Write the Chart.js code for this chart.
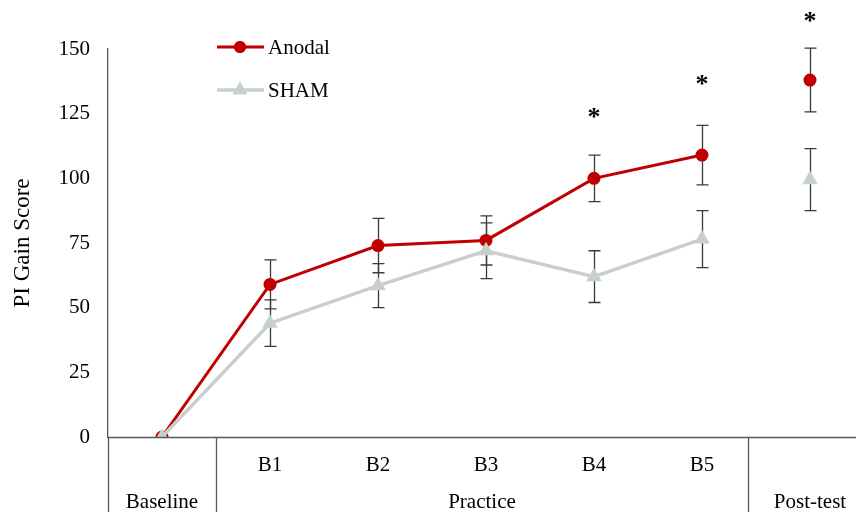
<!DOCTYPE html>
<html><head><meta charset="utf-8">
<script src="https://cdn.jsdelivr.net/npm/chart.js@4"></script>
<style>html,body{margin:0;padding:0;background:#fff}#wrap{width:856px;height:512px}</style>
</head><body><div id="wrap"><canvas id="c" width="856" height="512"></canvas></div>
<script>
const categories = ['Baseline','B1','B2','B3','B4','B5','Post-test'];
const tickLabels = ['', 'B1','B2','B3','B4','B5',''];
const groupLabels = ['Baseline','Practice','Post-test'];
const groupStart = [0,1,6];
const groupEnd = [0,5,6];
const anodal = [0,59,74,76,100,109,138];
const anodalErr = [0,9.5,10.5,9.5,9,11.5,12.3];
const sham = [0,44,58.5,72,62,76.5,99.5];
const shamErr = [0,9,8.5,10.8,10,11,12];
const starValues = [null,null,null,null,125.6,138.4,162.8];
const yTicks = [0,25,50,75,100,125,150];

const RED = '#C00000';
const GRAY = '#C8D0CD';
const AXIS = '#595959';
const FONT = "'Liberation Serif', 'DejaVu Serif', serif";
const X_MIN = -0.5, X_MAX = 6.426;
const SEPARATORS = [-0.5, 0.5, 5.426];

function pts(arr){ return arr.map((v,i)=>({x:i,y:v})); }

const errPlugin = {
  id:'errbars',
  beforeDatasetsDraw(chart){
    const {ctx, scales:{x,y}} = chart;
    ctx.save();
    ctx.strokeStyle = '#3a3a3a';
    ctx.lineWidth = 1.3;
    const sets = [[anodal, anodalErr],[sham, shamErr]];
    sets.forEach(([vals, errs])=>{
      vals.forEach((v,i)=>{
        const e = errs[i];
        if(!e) return;
        const px = Math.round(x.getPixelForValue(i))+0.5;
        const t = y.getPixelForValue(v+e), b = y.getPixelForValue(v-e);
        ctx.beginPath();
        ctx.moveTo(px,t); ctx.lineTo(px,b);
        ctx.moveTo(px-6,t); ctx.lineTo(px+6,t);
        ctx.moveTo(px-6,b); ctx.lineTo(px+6,b);
        ctx.stroke();
      });
    });
    ctx.restore();
  }
};

const decoPlugin = {
  id:'deco',
  afterDraw(chart){
    const {ctx, chartArea, scales:{x,y}} = chart;
    const W = chart.width, H = chart.height;
    const bottom = chartArea.bottom;
    ctx.save();
    ctx.strokeStyle = AXIS;
    ctx.lineWidth = 1.3;
    ctx.beginPath();
    ctx.moveTo(chartArea.left, bottom+0.5); ctx.lineTo(W, bottom+0.5);
    SEPARATORS.forEach(b=>{
      const px = Math.round(x.getPixelForValue(b))+0.5;
      ctx.moveTo(px, bottom); ctx.lineTo(px, H);
    });
    ctx.stroke();
    ctx.fillStyle = '#000';
    ctx.font = '21px ' + FONT;
    ctx.textAlign = 'center';
    ctx.textBaseline = 'middle';
    tickLabels.forEach((t,i)=>{ if(t) ctx.fillText(t, x.getPixelForValue(i), bottom+28); });
    groupLabels.forEach((g,k)=>{
      let px;
      if (k < SEPARATORS.length - 1) {
        px = (x.getPixelForValue(SEPARATORS[k]) + x.getPixelForValue(SEPARATORS[k+1]))/2;
      } else {
        px = x.getPixelForValue(groupStart[k]);
      }
      ctx.fillText(g, px, bottom+65);
    });
    ctx.font = 'bold 26px ' + FONT;
    ctx.textBaseline = 'alphabetic';
    starValues.forEach((s,i)=>{
      if(s==null) return;
      ctx.fillText('*', x.getPixelForValue(i), y.getPixelForValue(s)+13);
    });
    const items = [
      {label:'Anodal', color:RED, style:'circle', yy:47, r:6, lw:3},
      {label:'SHAM', color:GRAY, style:'triangle', yy:90, r:8.5, lw:3.5}
    ];
    items.forEach(it=>{
      ctx.strokeStyle = it.color; ctx.lineWidth = it.lw;
      ctx.beginPath(); ctx.moveTo(217, it.yy); ctx.lineTo(264, it.yy); ctx.stroke();
      ctx.fillStyle = it.color;
      Chart.helpers.drawPoint(ctx, {pointStyle: it.style, radius: it.r, borderWidth: 0}, 240, it.yy);
      ctx.fill();
      ctx.fillStyle = '#000';
      ctx.font = '21px ' + FONT;
      ctx.textAlign = 'left';
      ctx.textBaseline = 'middle';
      ctx.fillText(it.label, 268, it.yy+1);
    });
    ctx.restore();
  }
};

new Chart(document.getElementById('c'), {
  type:'line',
  data:{
    datasets:[
      {label:'Anodal', data:pts(anodal), borderColor:RED, backgroundColor:RED, borderWidth:3,
       pointStyle:'circle', pointRadius:6.5, pointBorderWidth:0, pointBackgroundColor:RED, order:2,
       segment:{borderColor: c => c.p1DataIndex===6 ? 'transparent' : RED}},
      {label:'SHAM', data:pts(sham), borderColor:GRAY, backgroundColor:GRAY, borderWidth:3.5,
       pointStyle:'triangle', pointRadius:9, pointBorderWidth:0, pointBackgroundColor:GRAY, order:1,
       segment:{borderColor: c => c.p1DataIndex===6 ? 'transparent' : GRAY}}
    ]
  },
  options:{
    responsive:false, animation:false,
    layout:{autoPadding:false, padding:{top:49, left:0, right:0, bottom:75}},
    plugins:{legend:{display:false}, tooltip:{enabled:false}},
    scales:{
      x:{type:'linear', min:X_MIN, max:X_MAX, display:false},
      y:{min:0, max:150,
         afterBuildTicks: s => { s.ticks = yTicks.map(v=>({value:v})); },
         afterFit: s => { s.width = 108; },
         grid:{display:false, drawTicks:false},
         border:{display:true, color:AXIS, width:1.3},
         ticks:{font:{family:FONT, size:21}, color:'#000', padding:18},
         title:{display:true, text:'PI Gain Score', font:{family:FONT, size:23}, color:'#000', padding:{top:9,bottom:0}}
      }
    }
  },
  plugins:[errPlugin, decoPlugin]
});
</script></body></html>
